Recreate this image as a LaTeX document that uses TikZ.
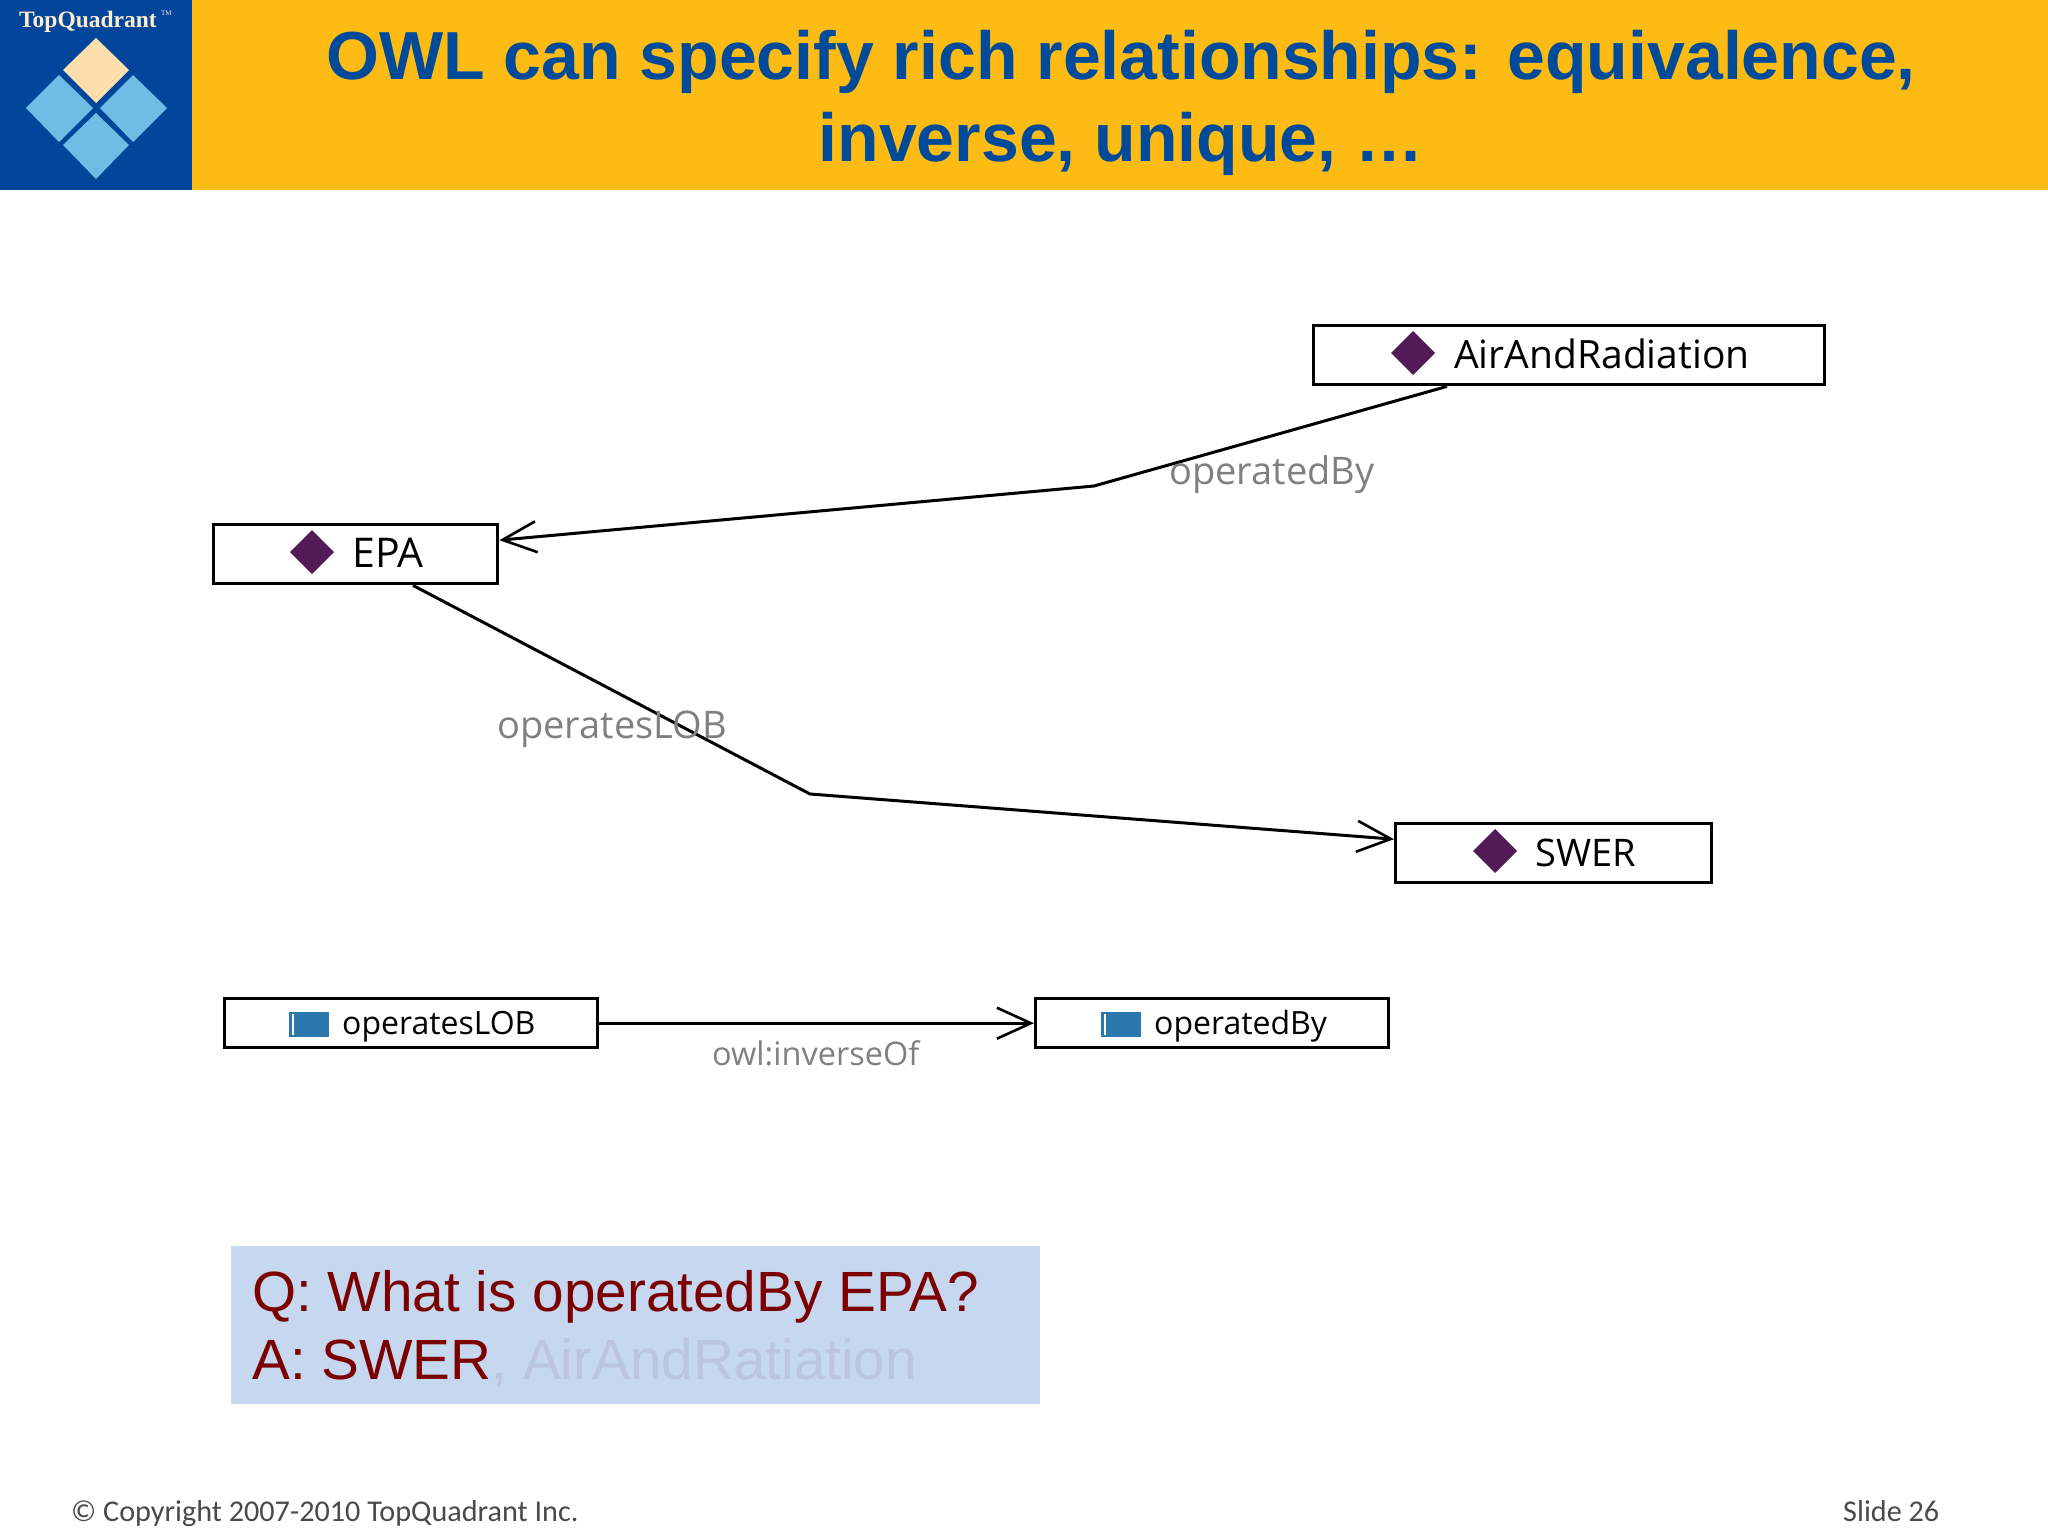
\documentclass[tikz,border=0pt]{standalone}
\usepackage{fontspec}
\setmainfont{Liberation Sans}
\newfontfamily\uifont{Open Sans}
\newfontfamily\logofont{Liberation Serif}
\newfontfamily\footfont{Carlito}
\usetikzlibrary{arrows.meta}
\definecolor{hdr}{HTML}{FDBB13}
\definecolor{logobg}{HTML}{02469C}
\definecolor{ttl}{HTML}{004A9A}
\definecolor{sky}{HTML}{6FBCE4}
\definecolor{cream}{HTML}{FDDFAE}
\definecolor{plum}{HTML}{521B58}
\definecolor{iconblue}{HTML}{2B78AE}
\definecolor{qbg}{HTML}{C6D7F0}
\definecolor{qred}{HTML}{7B0000}
\definecolor{fade}{HTML}{BCC5DE}
\definecolor{lbl}{HTML}{808080}
\definecolor{foot}{HTML}{4A4A4A}
\tikzset{
  x=1pt,y=-1pt,
  box/.style={draw=black,line width=3.4pt,fill=white,inner sep=0pt,anchor=north west},
  wire/.style={draw=black,line width=3pt,line join=round},
  tip/.style={-{Straight Barb[length=34pt,width=31pt,line width=2.6pt]}},
  uit/.style={font=\uifont\fontsize{#1}{#1}\selectfont,inner sep=0pt,anchor=base west,text=black},
  edgelbl/.style={font=\uifont\fontsize{#1}{#1}\selectfont,inner sep=0pt,anchor=base west,text=lbl},
  ttlt/.style={font=\bfseries\fontsize{68}{68}\selectfont,inner sep=0pt,anchor=base,text=ttl},
  qat/.style={font=\fontsize{56.7}{56.7}\selectfont,inner sep=0pt,anchor=base west,text=qred},
  ftr/.style={font=\footfont\fontsize{30.2}{30.2}\selectfont,inner sep=0pt,anchor=base west,text=foot},
  gem/.style={fill=#1,draw=none},
  diam/.style={fill=plum,draw=none},
  icon/.style={fill=iconblue,draw=none},
}
\begin{document}
\begin{tikzpicture}
\useasboundingbox (0,0) rectangle (2048,1536);
\fill[white] (0,0) rectangle (2048,1536);
% header
\fill[hdr] (192,0) rectangle (2048,190);
\fill[logobg] (0,0) rectangle (192,190);
\fill[gem=cream] (96,38) -- (129,70) -- (96,103) -- (63,70) -- cycle;
\fill[gem=sky] (59,75) -- (93,108) -- (59,142) -- (26,108) -- cycle;
\fill[gem=sky] (133,75) -- (167,108) -- (133,142) -- (100,108) -- cycle;
\fill[gem=sky] (96,113) -- (129,145) -- (96,179) -- (63,145) -- cycle;
\node[font=\logofont\bfseries\fontsize{23.5}{23.5}\selectfont,text=cream!60!white,inner sep=0pt,anchor=base west] (logo) at (19,28) {TopQuadrant};
\node[font=\logofont\fontsize{7}{7}\selectfont,text=cream!60!white,inner sep=0pt,anchor=base west] (tm) at (161,16) {TM};
\node[ttlt] (t1) at (1121,80) {OWL can specify rich relationships: equivalence,};
\node[ttlt] (t2) at (1121,161) {inverse, unique, …};
% connector helpers
\coordinate (b1) at (1094,486);
\coordinate (b2) at (810,794);
% boxes
\node[box,minimum width=511pt,minimum height=59pt] (air) at (1312,324) {};
\node[box,minimum width=284pt,minimum height=59pt] (epa) at (212,523) {};
\node[box,minimum width=316pt,minimum height=59pt] (swer) at (1394,822) {};
\node[box,minimum width=373pt,minimum height=49pt] (oplob) at (223,997) {};
\node[box,minimum width=353pt,minimum height=49pt] (opby) at (1034,997) {};
% connectors
\draw[wire,tip] (air.south west -| 1447,0) -- (b1) -- ([yshift=14pt]epa.east);
\draw[wire,tip] (epa.south -| 413,0) -- (b2) -- ([yshift=14pt]swer.west);
\draw[wire,tip] (oplob.east) -- (opby.west);
% diamonds
\fill[diam] (1413,331) -- (1435,353) -- (1413,375) -- (1391,353) -- cycle;
\fill[diam] (312,530) -- (334,552) -- (312,574) -- (290,552) -- cycle;
\fill[diam] (1495,829) -- (1517,851) -- (1495,873) -- (1473,851) -- cycle;
% icons
\fill[icon] (289,1012) rectangle (329,1037);
\fill[white] (292,1014) rectangle (294,1035);
\fill[icon] (1101,1012) rectangle (1141,1037);
\fill[white] (1104,1014) rectangle (1106,1035);
% box texts
\node[uit=39] (tair) at (1454,368) {AirAndRadiation};
\node[uit=41] (tepa) at (352,567) {EPA};
\node[uit=38] (tswer) at (1535,866) {SWER};
\node[uit=32] (toplob) at (342,1034) {operatesLOB};
\node[uit=32] (topby) at (1154,1034) {operatedBy};
% edge labels
\node[edgelbl=38] (lby) at (1169,484) {operatedBy};
\node[edgelbl=38] (llob) at (497,738) {operatesLOB};
\node[edgelbl=32.5] (linv) at (712,1065) {owl:inverseOf};
% Q and A
\fill[qbg] (231,1246) rectangle (1040,1404);
\node[qat] (q) at (252,1311.5) {Q: What is operatedBy EPA?};
\node[qat] (a) at (252,1379) {A: SWER\textcolor{fade}{, AirAndRatiation}};
% footer
\node[ftr] (cp) at (71,1521) {© Copyright 2007-2010 TopQuadrant Inc.};
\node[ftr] (sl) at (1843,1521) {Slide 26};
\end{tikzpicture}
\end{document}
